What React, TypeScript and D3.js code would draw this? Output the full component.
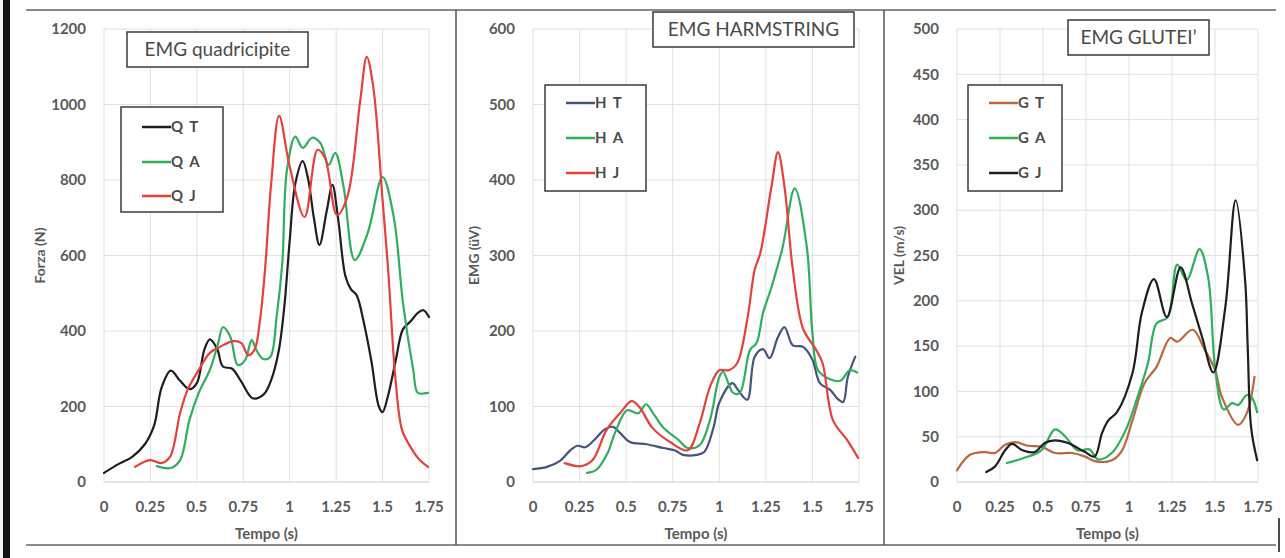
import React, { useEffect } from 'react';
import * as d3 from 'd3';

type Pt = [number, number];

// time axis (s)
const xTicks = [0, 0.25, 0.5, 0.75, 1, 1.25, 1.5, 1.75];

// EMG quadricipite
const quadT: Pt[] = [[0,24],[0.08,48],[0.15,66],[0.22,100],[0.27,150],[0.31,250],[0.36,295],[0.41,268],[0.46,246],[0.5,262],[0.54,350],[0.57,378],[0.61,352],[0.64,306],[0.69,300],[0.74,265],[0.8,222],[0.86,232],[0.9,270],[0.94,345],[0.97,460],[1.0,640],[1.03,790],[1.07,850],[1.1,800],[1.13,700],[1.16,628],[1.2,720],[1.23,787],[1.26,700],[1.3,545],[1.33,510],[1.36,495],[1.4,420],[1.44,320],[1.48,200],[1.5,185],[1.53,230],[1.57,320],[1.61,405],[1.65,425],[1.69,448],[1.72,455],[1.75,437]];
const quadA: Pt[] = [[0.285,42],[0.36,37],[0.41,58],[0.46,164],[0.51,236],[0.57,297],[0.615,368],[0.64,410],[0.68,385],[0.72,310],[0.76,323],[0.795,376],[0.82,350],[0.857,326],[0.895,331],[0.93,440],[0.96,580],[0.985,826],[1.03,915],[1.07,885],[1.12,912],[1.165,898],[1.21,840],[1.245,872],[1.29,782],[1.35,588],[1.42,660],[1.5,808],[1.56,702],[1.61,474],[1.665,297],[1.69,236],[1.745,236]];
const quadJ: Pt[] = [[0.167,40],[0.248,58],[0.31,50],[0.356,67],[0.41,183],[0.45,244],[0.51,297],[0.57,342],[0.625,358],[0.695,373],[0.74,368],[0.776,336],[0.81,350],[0.84,429],[0.867,562],[0.9,790],[0.943,970],[1.0,835],[1.08,702],[1.15,880],[1.19,858],[1.255,707],[1.31,755],[1.38,1012],[1.415,1126],[1.45,1046],[1.5,747],[1.53,562],[1.57,270],[1.605,138],[1.65,93],[1.7,58],[1.745,40]];

// EMG harmstring
const hamT: Pt[] = [[0,17],[0.075,20],[0.145,28],[0.2,42],[0.24,48],[0.28,46],[0.33,56],[0.387,70],[0.43,73],[0.467,65],[0.52,53],[0.61,50],[0.7,45],[0.76,42],[0.805,36],[0.88,36],[0.92,40],[0.97,73],[1.0,105],[1.07,131],[1.1,122],[1.15,109],[1.19,166],[1.235,176],[1.27,164],[1.315,192],[1.35,205],[1.395,181],[1.45,179],[1.5,162],[1.54,131],[1.595,122],[1.64,109],[1.665,106],[1.69,139],[1.73,166]];
const hamA: Pt[] = [[0.29,12],[0.34,16],[0.4,38],[0.44,65],[0.505,95],[0.565,91],[0.607,103],[0.645,91],[0.7,72],[0.78,56],[0.83,45],[0.895,49],[0.95,82],[1.0,139],[1.02,146],[1.075,118],[1.11,118],[1.165,175],[1.2,184],[1.235,224],[1.28,258],[1.34,311],[1.405,389],[1.47,311],[1.5,197],[1.53,148],[1.595,136],[1.65,134],[1.7,148],[1.74,145]];
const hamJ: Pt[] = [[0.17,25],[0.26,21],[0.32,29],[0.395,69],[0.467,91],[0.53,107],[0.575,98],[0.64,72],[0.735,53],[0.83,42],[0.895,78],[0.95,126],[1.0,148],[1.05,148],[1.095,157],[1.15,215],[1.19,281],[1.22,303],[1.28,391],[1.315,437],[1.35,391],[1.395,281],[1.45,203],[1.52,175],[1.555,157],[1.61,82],[1.685,56],[1.745,32]];

// EMG glutei
const gluT: Pt[] = [[0,13],[0.076,30],[0.163,33],[0.22,32],[0.28,41],[0.337,44],[0.413,40],[0.49,39],[0.57,32],[0.67,32],[0.745,28],[0.8,23],[0.9,24],[0.96,35],[1.02,68],[1.09,109],[1.16,127],[1.24,159],[1.28,155],[1.37,168],[1.44,146],[1.5,124],[1.54,94],[1.635,63],[1.685,76],[1.73,116]];
const gluA: Pt[] = [[0.29,21],[0.38,26],[0.49,35],[0.57,58],[0.63,50],[0.7,35],[0.77,36],[0.82,25],[0.9,32],[0.98,57],[1.05,94],[1.11,131],[1.16,175],[1.225,182],[1.28,240],[1.335,223],[1.41,257],[1.46,226],[1.49,149],[1.5,127],[1.55,80],[1.6,87],[1.635,85],[1.685,96],[1.715,93],[1.745,77]];
const gluJ: Pt[] = [[0.17,11],[0.22,17],[0.28,35],[0.32,42],[0.38,35],[0.45,33],[0.51,43],[0.57,46],[0.645,43],[0.745,33],[0.8,28],[0.843,54],[0.88,68],[0.93,77],[1.02,120],[1.075,187],[1.145,224],[1.22,182],[1.3,237],[1.365,198],[1.425,160],[1.49,121],[1.56,193],[1.62,311],[1.675,223],[1.69,150],[1.71,60],[1.745,24]];

const C_BLACK = '#1e1e1e';
const C_GREEN = '#2fae5e';
const C_RED = '#e5403a';
const C_NAVY = '#44557a';
const C_BROWN = '#b8683c';

const FONT = 'Lato, "Open Sans", sans-serif';
const TOP = 29;
const BOTTOM = 482;

const panels = [
  {
    left: 104, right: 429, yMax: 1200, yStep: 200, yLabel: 'Forza (N)', yLabelX: 40,
    title: 'EMG quadricipite', titleBox: [127, 32, 181, 35],
    legendBox: [121, 107, 102, 105], legendY: [127, 162, 196],
    series: [
      { name: 'Q T', color: C_BLACK, data: quadT },
      { name: 'Q A', color: C_GREEN, data: quadA },
      { name: 'Q J', color: C_RED, data: quadJ },
    ],
  },
  {
    left: 533, right: 859, yMax: 600, yStep: 100, yLabel: 'EMG (üV)', yLabelX: 474,
    title: 'EMG HARMSTRING', titleBox: [653, 12, 201, 35],
    legendBox: [545, 85, 101, 106], legendY: [103, 138, 173],
    series: [
      { name: 'H T', color: C_NAVY, data: hamT },
      { name: 'H A', color: C_GREEN, data: hamA },
      { name: 'H J', color: C_RED, data: hamJ },
    ],
  },
  {
    left: 957, right: 1258, yMax: 500, yStep: 50, yLabel: 'VEL (m/s)', yLabelX: 899,
    title: 'EMG GLUTEI\u2019', titleBox: [1068, 20, 141, 35],
    legendBox: [968, 85, 94, 106], legendY: [103, 138, 173],
    series: [
      { name: 'G T', color: C_BROWN, data: gluT },
      { name: 'G A', color: C_GREEN, data: gluA },
      { name: 'G J', color: C_BLACK, data: gluJ },
    ],
  },
];

function Panel({ p }: { p: typeof panels[number] }) {
  const x = d3.scaleLinear().domain([0, 1.75]).range([p.left, p.right]);
  const y = d3.scaleLinear().domain([0, p.yMax]).range([BOTTOM, TOP]);
  const yTicks = d3.range(0, p.yMax + 1, p.yStep);
  const line = d3.line<Pt>()
    .x(d => x(d[0]))
    .y(d => y(d[1]))
    .curve(d3.curveCatmullRom.alpha(0.5));
  const [bx, by, bw, bh] = p.titleBox;
  const [lx, ly, lw, lh] = p.legendBox;
  const midY = (TOP + BOTTOM) / 2;

  return (
    <g>
      {/* grid */}
      {yTicks.map(t => (
        <line key={'h' + t} x1={p.left} x2={p.right} y1={y(t)} y2={y(t)}
          stroke={t === 0 ? '#c8c8c8' : '#e0e0e0'} strokeWidth={1} />
      ))}
      {xTicks.map(t => (
        <line key={'v' + t} x1={x(t)} x2={x(t)} y1={TOP} y2={BOTTOM}
          stroke="#e0e0e0" strokeWidth={1} />
      ))}

      {/* tick labels */}
      {yTicks.map(t => (
        <text key={'yl' + t} x={p.left - 18} y={y(t)} dy="0.35em" textAnchor="end"
          fontSize={15} fontWeight="bold" fill="#5a5a5a" fontFamily={FONT}>{t}</text>
      ))}
      {xTicks.map(t => (
        <text key={'xl' + t} x={x(t)} y={507} dy="0.35em" textAnchor="middle"
          fontSize={15} fontWeight="bold" fill="#5a5a5a" fontFamily={FONT}>{String(t)}</text>
      ))}
      <text x={(p.left + p.right) / 2} y={534} dy="0.35em" textAnchor="middle"
        fontSize={15} fontWeight="bold" fill="#5a5a5a" fontFamily={FONT}>Tempo (s)</text>
      <text transform={`translate(${p.yLabelX},${midY}) rotate(-90)`} textAnchor="middle" dy="0.35em"
        fontSize={14} fontWeight="bold" fill="#5a5a5a" fontFamily={FONT}>{p.yLabel}</text>

      {/* series */}
      {p.series.map(s => (
        <path key={s.name} d={line(s.data) || ''} fill="none" stroke={s.color}
          strokeWidth={2.2} strokeLinejoin="round" strokeLinecap="round" />
      ))}

      {/* title box */}
      <rect x={bx} y={by} width={bw} height={bh} fill="#fff" stroke="#3a3a3a" strokeWidth={1.5} />
      <text x={bx + bw / 2} y={by + bh / 2} dy="0.36em" textAnchor="middle"
        fontSize={19} fill="#4a4a4a" fontFamily={FONT}>{p.title}</text>

      {/* legend */}
      <rect x={lx} y={ly} width={lw} height={lh} fill="#fff" stroke="#3a3a3a" strokeWidth={1.5} />
      {p.series.map((s, i) => (
        <g key={'lg' + s.name}>
          <line x1={lx + 21} x2={lx + 50} y1={p.legendY[i]} y2={p.legendY[i]} stroke={s.color} strokeWidth={2.5} />
          <text x={lx + 50} y={p.legendY[i]} dy="0.36em" fontSize={15} fontWeight="bold"
            letterSpacing={1.5} fill="#4a4a4a" fontFamily={FONT}>{s.name}</text>
        </g>
      ))}
    </g>
  );
}

export default function App() {
  useEffect(() => {
    document.body.style.margin = '0';
  }, []);

  return (
    <svg width={1285} height={558} style={{ display: 'block', background: '#fff' }}>
      {/* left frame strip */}
      <rect x={0} y={0} width={3} height={558} fill="#f4f1ea" />
      <rect x={3} y={0} width={7} height={558} fill="#111" />
      {/* outer frame lines */}
      <line x1={26} x2={1276} y1={10} y2={10} stroke="#8a8a8a" strokeWidth={2} />
      <line x1={26} x2={1276} y1={545} y2={545} stroke="#8a8a8a" strokeWidth={2} />
      <line x1={456} x2={456} y1={10} y2={545} stroke="#555" strokeWidth={1.5} />
      <line x1={884} x2={884} y1={10} y2={545} stroke="#555" strokeWidth={1.5} />
      <line x1={1279} x2={1279} y1={518} y2={552} stroke="#111" strokeWidth={1.5} />
      {panels.map(p => <Panel key={p.title} p={p} />)}
    </svg>
  );
}
